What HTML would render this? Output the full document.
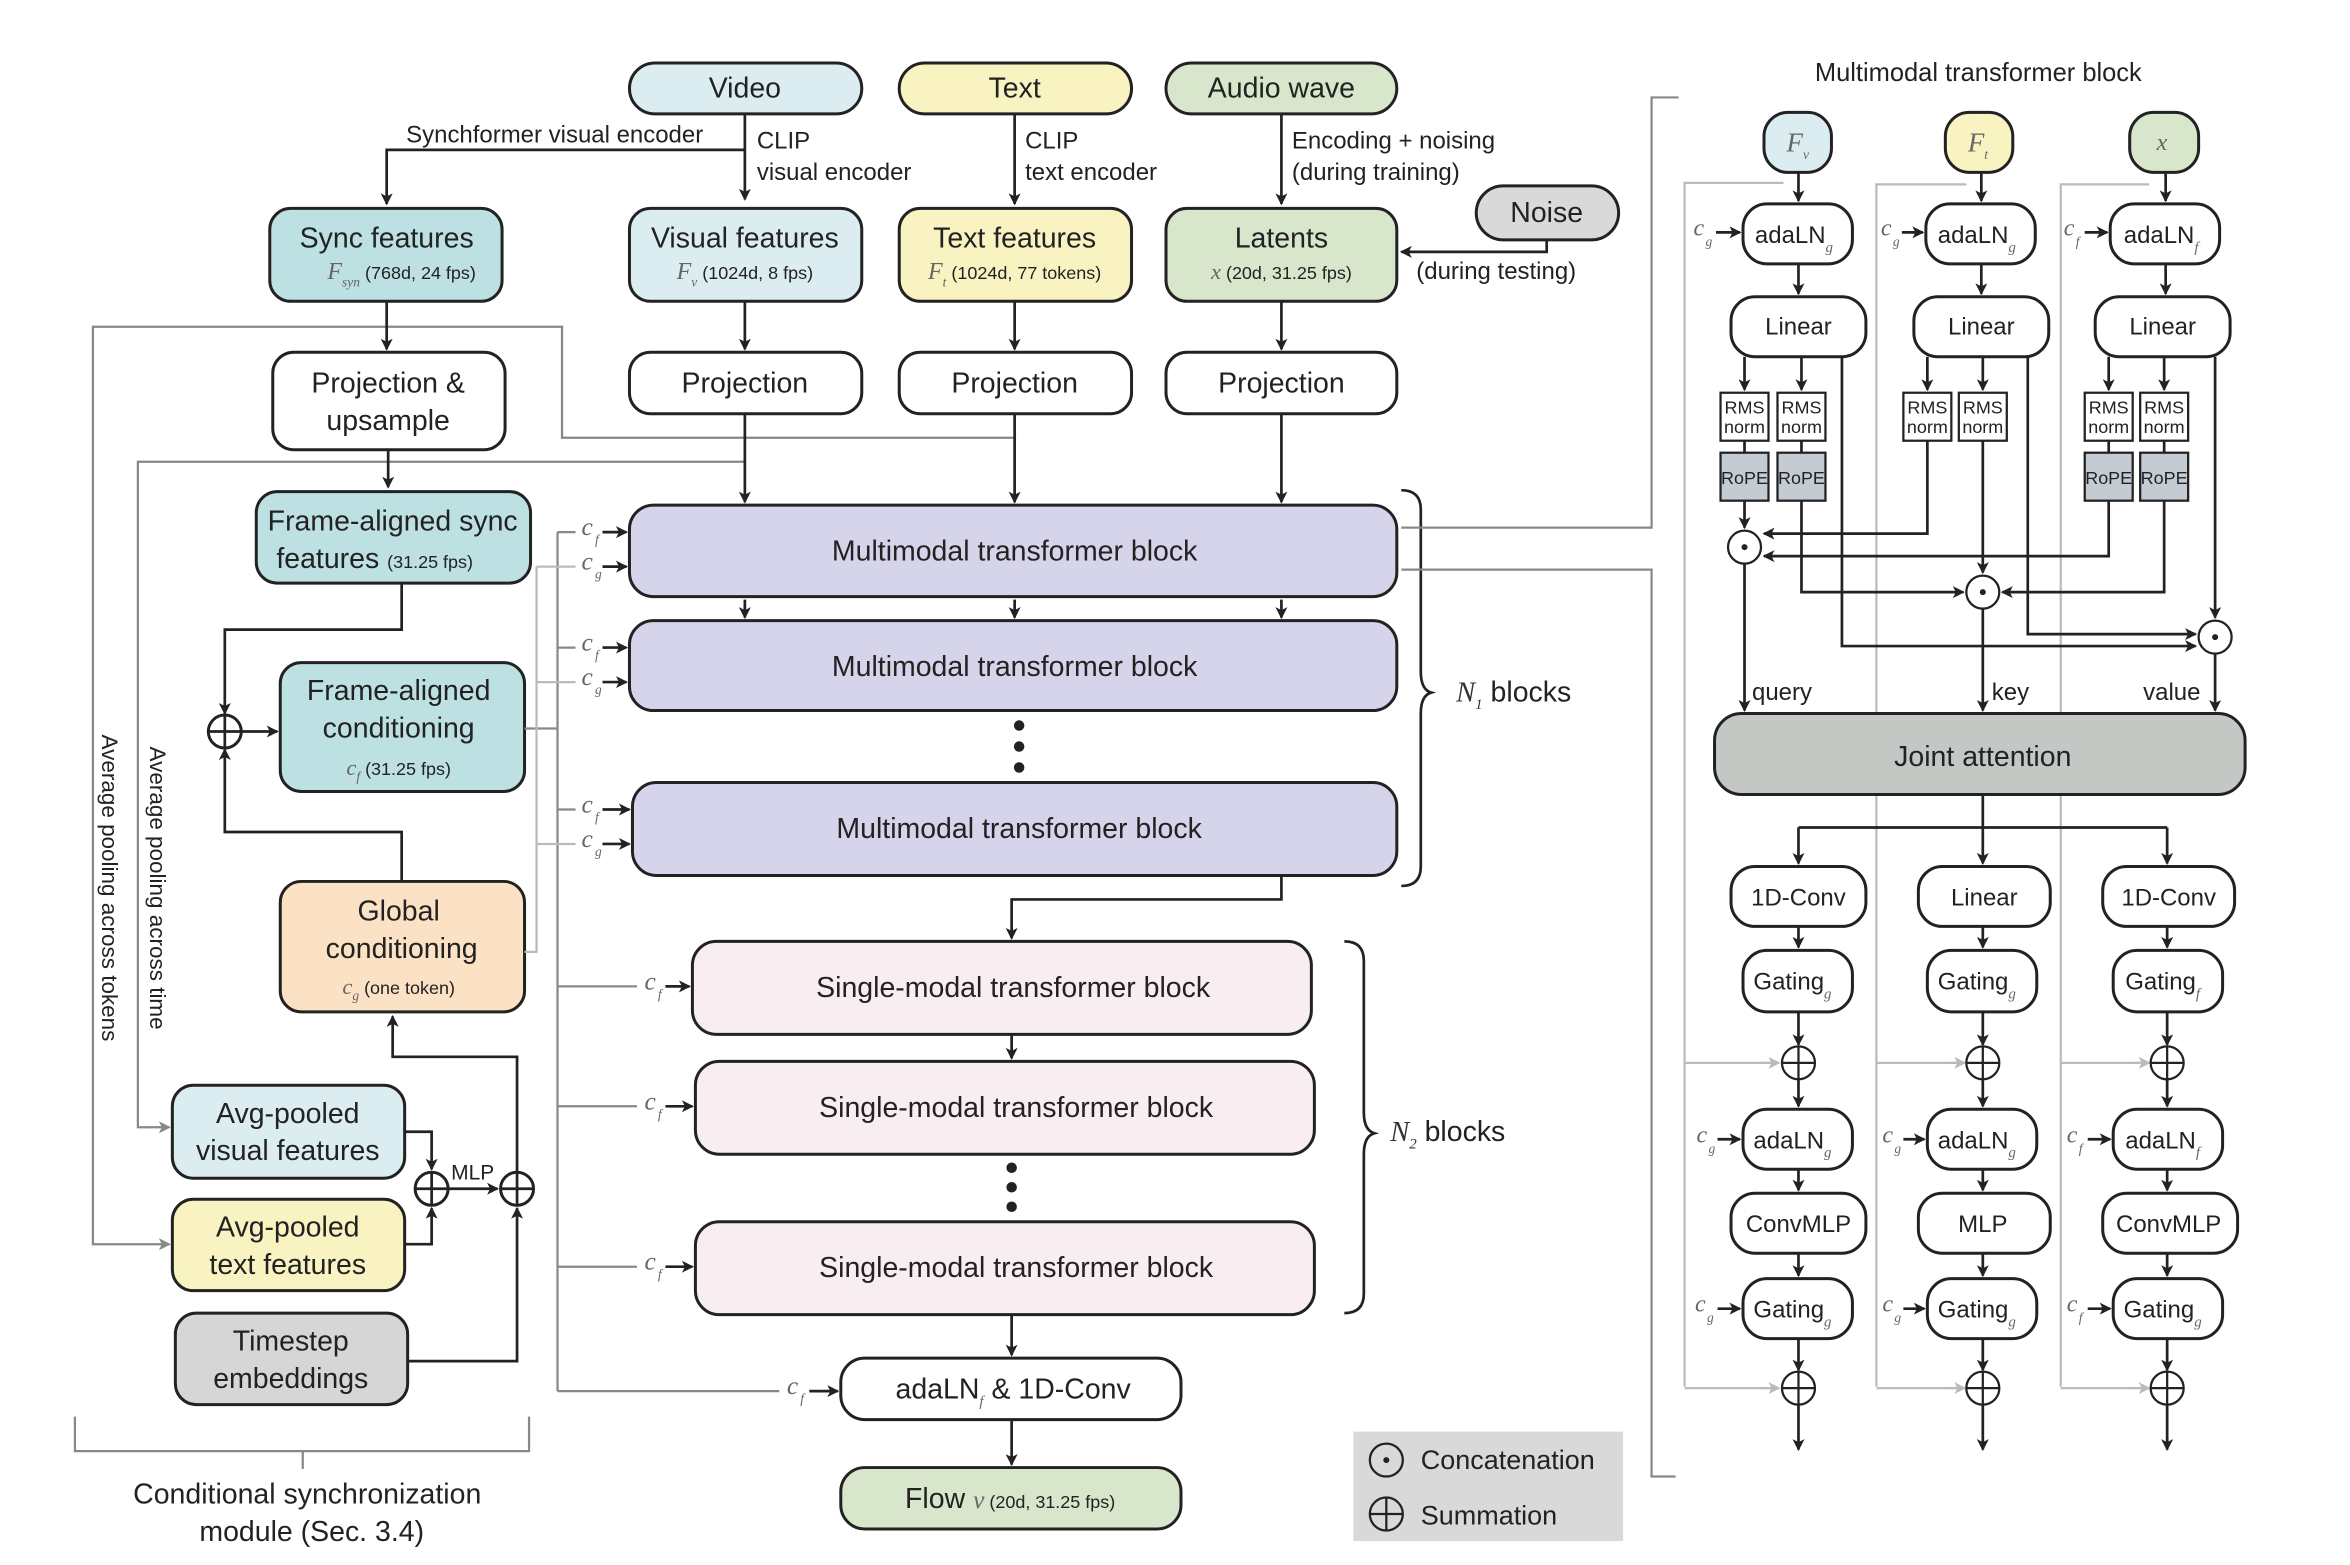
<!DOCTYPE html>
<html><head><meta charset="utf-8"><style>
html,body{margin:0;padding:0;background:#fff;}
svg{display:block;}
text{font-family:"Liberation Sans",sans-serif;fill:#222;}
.t{font-size:19px;text-anchor:middle;}
.s{font-size:12px;text-anchor:middle;}
.r{font-size:16px;text-anchor:middle;}
.l{font-size:16px;}
.i{font-family:"Liberation Serif",serif;font-style:italic;fill:#666;}
.b{stroke:#222;stroke-width:2;}
.k{stroke:#222;stroke-width:1.8;fill:none;}
.g{stroke:#888;stroke-width:1.5;fill:none;}
.lg{stroke:#bbb;stroke-width:1.5;fill:none;}
</style></head><body>
<svg width="2350" height="1565" viewBox="0 0 1568 1044" preserveAspectRatio="none" xmlns="http://www.w3.org/2000/svg">
<defs>
<marker id="a" markerWidth="8" markerHeight="8" refX="7" refY="4" orient="auto" markerUnits="userSpaceOnUse"><path d="M0,0 L8,4 L0,8 L2,4z" fill="#222"/></marker>
<marker id="ag" markerWidth="8" markerHeight="8" refX="7" refY="4" orient="auto" markerUnits="userSpaceOnUse"><path d="M0,0 L8,4 L0,8 L2,4z" fill="#888"/></marker>
<marker id="al" markerWidth="8" markerHeight="8" refX="7" refY="4" orient="auto" markerUnits="userSpaceOnUse"><path d="M0,0 L8,4 L0,8 L2,4z" fill="#bbb"/></marker>
</defs>

<path class="g" d="M258,218 H62 V830 H113" marker-end="url(#ag)"/>
<path class="g" d="M258,218 H375 V292 H678"/>
<path class="g" d="M497,308 H92 V752 H113" marker-end="url(#ag)"/>
<text class="l" transform="translate(68,490) rotate(90)" style="font-size:15px">Average pooling across tokens</text>
<text class="l" transform="translate(100,498) rotate(90)" style="font-size:15px">Average pooling across time</text>

<rect x="420" y="42" width="155" height="34" rx="17" fill="#dcedf2" class="b"/><text class="t" x="497" y="65">Video</text>
<rect x="600" y="42" width="155" height="34" rx="17" fill="#f8f3c0" class="b"/><text class="t" x="677" y="65">Text</text>
<rect x="778" y="42" width="154" height="34" rx="17" fill="#d8e6cc" class="b"/><text class="t" x="855" y="65">Audio wave</text>

<path class="k" d="M497,76 V133" marker-end="url(#a)"/>
<path class="k" d="M497,100 H258 V136" marker-end="url(#a)"/>
<path class="k" d="M677,76 V136" marker-end="url(#a)"/>
<path class="k" d="M855,76 V136" marker-end="url(#a)"/>
<text class="l" x="271" y="95">Synchformer visual encoder</text>
<text class="l" x="505" y="99">CLIP</text><text class="l" x="505" y="120">visual encoder</text>
<text class="l" x="684" y="99">CLIP</text><text class="l" x="684" y="120">text encoder</text>
<text class="l" x="862" y="99">Encoding + noising</text><text class="l" x="862" y="120">(during training)</text>

<rect x="180" y="139" width="155" height="62" rx="14" fill="#bde0e3" class="b"/>
<text class="t" x="258" y="165">Sync features</text>
<text class="s" x="268" y="186"><tspan class="i" style="font-size:16px">F</tspan><tspan class="i" style="font-size:9px" dy="5">syn</tspan><tspan dy="-5"> (768d, 24 fps)</tspan></text>
<rect x="420" y="139" width="155" height="62" rx="14" fill="#dcedf2" class="b"/>
<text class="t" x="497" y="165">Visual features</text>
<text class="s" x="497" y="186"><tspan class="i" style="font-size:16px">F</tspan><tspan class="i" style="font-size:9px" dy="5">v</tspan><tspan dy="-5"> (1024d, 8 fps)</tspan></text>
<rect x="600" y="139" width="155" height="62" rx="14" fill="#f8f3c0" class="b"/>
<text class="t" x="677" y="165">Text features</text>
<text class="s" x="677" y="186"><tspan class="i" style="font-size:16px">F</tspan><tspan class="i" style="font-size:9px" dy="5">t</tspan><tspan dy="-5"> (1024d, 77 tokens)</tspan></text>
<rect x="778" y="139" width="154" height="62" rx="14" fill="#d8e6cc" class="b"/>
<text class="t" x="855" y="165">Latents</text>
<text class="s" x="855" y="186"><tspan class="i" style="font-size:15px">x</tspan> (20d, 31.25 fps)</text>

<rect x="985" y="124" width="95" height="36" rx="18" fill="#d9d9d9" class="b"/><text class="t" x="1032" y="148">Noise</text>
<path class="k" d="M1032,160 V168 H935" marker-end="url(#a)"/>
<text class="l" x="945" y="186">(during testing)</text>

<path class="k" d="M258,201 V233" marker-end="url(#a)"/>
<path class="k" d="M497,201 V233" marker-end="url(#a)"/>
<path class="k" d="M677,201 V233" marker-end="url(#a)"/>
<path class="k" d="M855,201 V233" marker-end="url(#a)"/>

<rect x="182" y="235" width="155" height="65" rx="14" fill="#fff" class="b"/>
<text class="t" x="259" y="262">Projection &amp;</text><text class="t" x="259" y="287">upsample</text>
<rect x="420" y="235" width="155" height="41" rx="14" fill="#fff" class="b"/><text class="t" x="497" y="262">Projection</text>
<rect x="600" y="235" width="155" height="41" rx="14" fill="#fff" class="b"/><text class="t" x="677" y="262">Projection</text>
<rect x="778" y="235" width="154" height="41" rx="14" fill="#fff" class="b"/><text class="t" x="855" y="262">Projection</text>

<path class="k" d="M259,300 V325" marker-end="url(#a)"/>
<path class="k" d="M497,276 V335" marker-end="url(#a)"/>
<path class="k" d="M677,276 V335" marker-end="url(#a)"/>
<path class="k" d="M855,276 V335" marker-end="url(#a)"/>

<rect x="171" y="328" width="183" height="61" rx="14" fill="#bde0e3" class="b"/>
<text class="t" x="262" y="354">Frame-aligned sync</text>
<text class="t" x="250" y="379">features <tspan style="font-size:12px">(31.25 fps)</tspan></text>
<rect x="187" y="442" width="163" height="86" rx="14" fill="#bde0e3" class="b"/>
<text class="t" x="266" y="467">Frame-aligned</text>
<text class="t" x="266" y="492">conditioning</text>
<text class="s" x="266" y="517"><tspan class="i" style="font-size:15px">c</tspan><tspan class="i" style="font-size:9px" dy="4">f</tspan><tspan dy="-4"> (31.25 fps)</tspan></text>
<rect x="187" y="588" width="163" height="87" rx="14" fill="#fbe2c4" class="b"/>
<text class="t" x="266" y="614">Global</text>
<text class="t" x="268" y="639">conditioning</text>
<text class="s" x="266" y="663"><tspan class="i" style="font-size:15px">c</tspan><tspan class="i" style="font-size:9px" dy="4">g</tspan><tspan dy="-4"> (one token)</tspan></text>

<path class="k" d="M268,389 V420 H150 V476" marker-end="url(#a)"/>
<path class="k" d="M268,588 V555 H150 V500" marker-end="url(#a)"/>
<circle cx="150" cy="488" r="11" fill="#fff" class="b"/><path class="k" d="M139,488 H161 M150,477 V499"/>
<path class="k" d="M161,488 H185" marker-end="url(#a)"/>

<rect x="115" y="724" width="155" height="62" rx="14" fill="#dcedf2" class="b"/>
<text class="t" x="192" y="749">Avg-pooled</text><text class="t" x="192" y="774">visual features</text>
<rect x="115" y="800" width="155" height="61" rx="14" fill="#f8f3c0" class="b"/>
<text class="t" x="192" y="825">Avg-pooled</text><text class="t" x="192" y="850">text features</text>
<rect x="117" y="876" width="155" height="61" rx="14" fill="#d6d6d6" class="b"/>
<text class="t" x="194" y="901">Timestep</text><text class="t" x="194" y="926">embeddings</text>

<path class="k" d="M270,755 H288 V780" marker-end="url(#a)"/>
<path class="k" d="M270,830 H288 V806" marker-end="url(#a)"/>
<circle cx="288" cy="793" r="11" fill="#fff" class="b"/><path class="k" d="M277,793 H299 M288,782 V804"/>
<path class="k" d="M299,793 H332" marker-end="url(#a)"/>
<text class="l" x="301" y="787" style="font-size:14px">MLP</text>
<circle cx="345" cy="793" r="11" fill="#fff" class="b"/><path class="k" d="M334,793 H356 M345,782 V804"/>
<path class="k" d="M272,908 H345 V806" marker-end="url(#a)"/>
<path class="k" d="M345,782 V705 H262 V678" marker-end="url(#a)"/>

<path class="g" d="M50,945 V968 H353 V945 M202,968 V980"/>
<text class="t" x="205" y="1003">Conditional synchronization</text>
<text class="t" x="208" y="1028">module (Sec. 3.4)</text>

<path class="g" d="M350,486 H372 M372,355 V928"/>
<path class="lg" d="M350,635 H358 V378"/>
<g class="g">
<path d="M372,355 H384"/><path d="M372,432 H384"/><path d="M372,540 H384"/>
<path d="M372,658 H425"/><path d="M372,738 H425"/><path d="M372,845 H425"/><path d="M372,928 H520"/>
</g>
<g class="lg"><path d="M358,378 H384"/><path d="M358,455 H384"/><path d="M358,563 H384"/></g>
<g font-size="17">
<text class="i" x="388" y="357">c</text><text class="i" x="397" y="363" font-size="9">f</text><path class="k" d="M402,355 H418" marker-end="url(#a)"/>
<text class="i" x="388" y="380">c</text><text class="i" x="397" y="386" font-size="9">g</text><path class="k" d="M402,378 H418" marker-end="url(#a)"/>
<text class="i" x="388" y="434">c</text><text class="i" x="397" y="440" font-size="9">f</text><path class="k" d="M402,432 H418" marker-end="url(#a)"/>
<text class="i" x="388" y="457">c</text><text class="i" x="397" y="463" font-size="9">g</text><path class="k" d="M402,455 H418" marker-end="url(#a)"/>
<text class="i" x="388" y="542">c</text><text class="i" x="397" y="548" font-size="9">f</text><path class="k" d="M402,540 H420" marker-end="url(#a)"/>
<text class="i" x="388" y="565">c</text><text class="i" x="397" y="571" font-size="9">g</text><path class="k" d="M402,563 H420" marker-end="url(#a)"/>
<text class="i" x="430" y="660">c</text><text class="i" x="439" y="666" font-size="9">f</text><path class="k" d="M444,658 H460" marker-end="url(#a)"/>
<text class="i" x="430" y="740">c</text><text class="i" x="439" y="746" font-size="9">f</text><path class="k" d="M444,738 H462" marker-end="url(#a)"/>
<text class="i" x="430" y="847">c</text><text class="i" x="439" y="853" font-size="9">f</text><path class="k" d="M444,845 H462" marker-end="url(#a)"/>
<text class="i" x="525" y="930">c</text><text class="i" x="534" y="936" font-size="9">f</text><path class="k" d="M540,928 H559" marker-end="url(#a)"/>
</g>

<rect x="420" y="337" width="512" height="61" rx="16" fill="#d5d4ea" class="b"/><text class="t" x="677" y="374">Multimodal transformer block</text>
<path class="k" d="M497,400 V412" marker-end="url(#a)"/><path class="k" d="M677,400 V412" marker-end="url(#a)"/><path class="k" d="M855,400 V412" marker-end="url(#a)"/>
<rect x="420" y="414" width="512" height="60" rx="16" fill="#d5d4ea" class="b"/><text class="t" x="677" y="451">Multimodal transformer block</text>
<circle cx="680" cy="484" r="3.5" fill="#222"/><circle cx="680" cy="498" r="3.5" fill="#222"/><circle cx="680" cy="512" r="3.5" fill="#222"/>
<rect x="422" y="522" width="510" height="62" rx="16" fill="#d5d4ea" class="b"/><text class="t" x="680" y="559">Multimodal transformer block</text>
<path class="k" d="M855,584 V600 H675 V626" marker-end="url(#a)"/>

<path class="k" d="M935,327 Q948,327 948,340 V448 Q948,460 955,462 Q948,464 948,476 V578 Q948,591 935,591" />
<text class="t" x="1010" y="468" style="font-size:19px"><tspan class="i" style="fill:#333">N</tspan><tspan class="i" style="font-size:10px;fill:#333" dy="5">1</tspan><tspan dy="-5"> blocks</tspan></text>

<rect x="462" y="628" width="413" height="62" rx="16" fill="#f8edf1" class="b"/><text class="t" x="676" y="665">Single-modal transformer block</text>
<path class="k" d="M675,690 V706" marker-end="url(#a)"/>
<rect x="464" y="708" width="413" height="62" rx="16" fill="#f8edf1" class="b"/><text class="t" x="678" y="745">Single-modal transformer block</text>
<circle cx="675" cy="779" r="3.5" fill="#222"/><circle cx="675" cy="792" r="3.5" fill="#222"/><circle cx="675" cy="805" r="3.5" fill="#222"/>
<rect x="464" y="815" width="413" height="62" rx="16" fill="#f8edf1" class="b"/><text class="t" x="678" y="852">Single-modal transformer block</text>
<path class="k" d="M897,628 Q910,628 910,641 V742 Q910,754 917,756 Q910,758 910,770 V863 Q910,876 897,876"/>
<text class="t" x="966" y="761" style="font-size:19px"><tspan class="i" style="fill:#333">N</tspan><tspan class="i" style="font-size:10px;fill:#333" dy="5">2</tspan><tspan dy="-5"> blocks</tspan></text>

<path class="k" d="M675,877 V904" marker-end="url(#a)"/>
<rect x="561" y="906" width="227" height="41" rx="16" fill="#fff" class="b"/>
<text class="t" x="676" y="933">adaLN<tspan class="i" style="font-size:10px" dy="5">f</tspan><tspan dy="-5"> &amp; 1D-Conv</tspan></text>
<path class="k" d="M675,947 V977" marker-end="url(#a)"/>
<rect x="561" y="979" width="227" height="41" rx="16" fill="#d8e6cc" class="b"/>
<text class="t" x="674" y="1006">Flow <tspan class="i" style="font-size:17px">v</tspan><tspan style="font-size:12px"> (20d, 31.25 fps)</tspan></text>

<rect x="903" y="955" width="180" height="73" fill="#d9d9d9"/>
<circle cx="925" cy="974" r="11" fill="none" class="b" style="stroke-width:1.5"/><circle cx="925" cy="974" r="2" fill="#222"/>
<text class="l" x="948" y="980" style="font-size:18px">Concatenation</text>
<circle cx="925" cy="1010" r="11" fill="none" class="b" style="stroke-width:1.5"/><path class="k" d="M914,1010 H936 M925,999 V1021" style="stroke-width:1.5"/>
<text class="l" x="948" y="1017" style="font-size:18px">Summation</text>

<path class="g" d="M935,352 H1102 V65 H1120"/>
<path class="g" d="M935,380 H1102 V985 H1118"/>
<text class="t" x="1320" y="54" style="font-size:17px">Multimodal transformer block</text>

<path class="lg" d="M1190,122 H1124 V925 M1124,709 H1186 M1124,926 H1186"/>
<path class="lg" d="M1312,123 H1252 V925 M1252,709 H1310 M1252,926 H1310"/>
<path class="lg" d="M1434,123 H1375 V925 M1375,709 H1433 M1375,926 H1433"/>
<g class="lg"><path d="M1176,709 H1187" marker-end="url(#al)"/><path d="M1300,709 H1311" marker-end="url(#al)"/><path d="M1423,709 H1434" marker-end="url(#al)"/>
<path d="M1176,926 H1187" marker-end="url(#al)"/><path d="M1300,926 H1311" marker-end="url(#al)"/><path d="M1423,926 H1434" marker-end="url(#al)"/></g>

<rect x="1177" y="75" width="45" height="40" rx="16" fill="#dcedf2" class="b"/><text class="i" x="1192" y="101" font-size="18">F</text><text class="i" x="1203" y="106" font-size="9">v</text>
<rect x="1298" y="75" width="45" height="40" rx="16" fill="#f8f3c0" class="b"/><text class="i" x="1313" y="101" font-size="18">F</text><text class="i" x="1324" y="106" font-size="9">t</text>
<rect x="1421" y="75" width="46" height="40" rx="16" fill="#d8e6cc" class="b"/><text class="i" x="1439" y="100" font-size="16">x</text>

<g class="k">
<path d="M1200,115 V134" marker-end="url(#a)"/><path d="M1322,115 V134" marker-end="url(#a)"/><path d="M1445,115 V134" marker-end="url(#a)"/>
<path d="M1200,176 V196" marker-end="url(#a)"/><path d="M1322,176 V196" marker-end="url(#a)"/><path d="M1445,176 V196" marker-end="url(#a)"/>
<path d="M1164,238 V260" marker-end="url(#a)"/><path d="M1202,238 V260" marker-end="url(#a)"/>
<path d="M1286,238 V260" marker-end="url(#a)"/><path d="M1323,238 V260" marker-end="url(#a)"/>
<path d="M1407,238 V260" marker-end="url(#a)"/><path d="M1444,238 V260" marker-end="url(#a)"/>
</g>

<rect x="1163" y="136" width="73" height="40" rx="16" fill="#fff" class="b"/><text class="r" x="1197" y="162">adaLN<tspan class="i" font-size="10" dy="6">g</tspan></text>
<rect x="1285" y="136" width="73" height="40" rx="16" fill="#fff" class="b"/><text class="r" x="1319" y="162">adaLN<tspan class="i" font-size="10" dy="6">g</tspan></text>
<rect x="1408" y="136" width="73" height="40" rx="16" fill="#fff" class="b"/><text class="r" x="1442" y="162">adaLN<tspan class="i" font-size="10" dy="6">f</tspan></text>
<g font-size="16">
<text class="i" x="1130" y="157">c</text><text class="i" x="1138" y="164" font-size="9">g</text><path class="k" d="M1145,155 H1161" marker-end="url(#a)"/>
<text class="i" x="1255" y="157">c</text><text class="i" x="1263" y="164" font-size="9">g</text><path class="k" d="M1269,155 H1283" marker-end="url(#a)"/>
<text class="i" x="1377" y="157">c</text><text class="i" x="1385" y="164" font-size="9">f</text><path class="k" d="M1391,155 H1406" marker-end="url(#a)"/>
</g>

<rect x="1155" y="198" width="90" height="40" rx="16" fill="#fff" class="b"/><text class="r" x="1200" y="223">Linear</text>
<rect x="1277" y="198" width="90" height="40" rx="16" fill="#fff" class="b"/><text class="r" x="1322" y="223">Linear</text>
<rect x="1398" y="198" width="90" height="40" rx="16" fill="#fff" class="b"/><text class="r" x="1443" y="223">Linear</text>

<g font-size="12" text-anchor="middle">
<rect x="1148" y="262" width="32" height="32" fill="#fff" class="b" style="stroke-width:1.5"/><text x="1164" y="276">RMS</text><text x="1164" y="289">norm</text>
<rect x="1186" y="262" width="32" height="32" fill="#fff" class="b" style="stroke-width:1.5"/><text x="1202" y="276">RMS</text><text x="1202" y="289">norm</text>
<rect x="1270" y="262" width="32" height="32" fill="#fff" class="b" style="stroke-width:1.5"/><text x="1286" y="276">RMS</text><text x="1286" y="289">norm</text>
<rect x="1307" y="262" width="32" height="32" fill="#fff" class="b" style="stroke-width:1.5"/><text x="1323" y="276">RMS</text><text x="1323" y="289">norm</text>
<rect x="1391" y="262" width="32" height="32" fill="#fff" class="b" style="stroke-width:1.5"/><text x="1407" y="276">RMS</text><text x="1407" y="289">norm</text>
<rect x="1428" y="262" width="32" height="32" fill="#fff" class="b" style="stroke-width:1.5"/><text x="1444" y="276">RMS</text><text x="1444" y="289">norm</text>
<rect x="1148" y="302" width="32" height="32" fill="#c5cbd3" class="b" style="stroke-width:1.5"/><text x="1164" y="323">RoPE</text>
<rect x="1186" y="302" width="32" height="32" fill="#c5cbd3" class="b" style="stroke-width:1.5"/><text x="1202" y="323">RoPE</text>
<rect x="1391" y="302" width="32" height="32" fill="#c5cbd3" class="b" style="stroke-width:1.5"/><text x="1407" y="323">RoPE</text>
<rect x="1428" y="302" width="32" height="32" fill="#c5cbd3" class="b" style="stroke-width:1.5"/><text x="1444" y="323">RoPE</text>
</g>
<g class="k">
<path d="M1164,294 V302 M1202,294 V302 M1407,294 V302 M1444,294 V302"/>
<path d="M1164,334 V352" marker-end="url(#a)"/>
<path d="M1286,294 V356 H1177" marker-end="url(#a)"/>
<path d="M1407,334 V371 H1177" marker-end="url(#a)"/>
<path d="M1202,334 V395 H1310" marker-end="url(#a)"/>
<path d="M1323,294 V382" marker-end="url(#a)"/>
<path d="M1444,334 V395 H1336" marker-end="url(#a)"/>
<path d="M1229,238 V431 H1465" marker-end="url(#a)"/>
<path d="M1353,238 V423 H1465" marker-end="url(#a)"/>
<path d="M1478,238 V412" marker-end="url(#a)"/>
<path d="M1164,376 V474" marker-end="url(#a)"/>
<path d="M1323,406 V474" marker-end="url(#a)"/>
<path d="M1478,436 V474" marker-end="url(#a)"/>
</g>
<circle cx="1164" cy="365" r="11" fill="#fff" class="b" style="stroke-width:1.5"/><circle cx="1164" cy="365" r="2" fill="#222"/>
<circle cx="1323" cy="395" r="11" fill="#fff" class="b" style="stroke-width:1.5"/><circle cx="1323" cy="395" r="2" fill="#222"/>
<circle cx="1478" cy="425" r="11" fill="#fff" class="b" style="stroke-width:1.5"/><circle cx="1478" cy="425" r="2" fill="#222"/>
<text class="l" x="1169" y="467">query</text>
<text class="l" x="1329" y="467">key</text>
<text class="l" x="1430" y="467">value</text>

<rect x="1144" y="476" width="354" height="54" rx="18" fill="#c4c8c5" class="b"/>
<text class="t" x="1323" y="511">Joint attention</text>

<path class="k" d="M1323,530 V552 M1200,552 H1446"/>
<g class="k">
<path d="M1200,552 V576" marker-end="url(#a)"/><path d="M1323,552 V576" marker-end="url(#a)"/><path d="M1446,552 V576" marker-end="url(#a)"/>
<path d="M1200,618 V632" marker-end="url(#a)"/><path d="M1323,618 V632" marker-end="url(#a)"/><path d="M1446,618 V632" marker-end="url(#a)"/>
<path d="M1200,675 V697" marker-end="url(#a)"/><path d="M1323,675 V697" marker-end="url(#a)"/><path d="M1446,675 V697" marker-end="url(#a)"/>
<path d="M1200,720 V738" marker-end="url(#a)"/><path d="M1323,720 V738" marker-end="url(#a)"/><path d="M1446,720 V738" marker-end="url(#a)"/>
<path d="M1200,780 V794" marker-end="url(#a)"/><path d="M1323,780 V794" marker-end="url(#a)"/><path d="M1446,780 V794" marker-end="url(#a)"/>
<path d="M1200,836 V851" marker-end="url(#a)"/><path d="M1323,836 V851" marker-end="url(#a)"/><path d="M1446,836 V851" marker-end="url(#a)"/>
<path d="M1200,893 V914" marker-end="url(#a)"/><path d="M1323,893 V914" marker-end="url(#a)"/><path d="M1446,893 V914" marker-end="url(#a)"/>
<path d="M1200,937 V967" marker-end="url(#a)"/><path d="M1323,937 V967" marker-end="url(#a)"/><path d="M1446,937 V967" marker-end="url(#a)"/>
</g>

<rect x="1155" y="578" width="90" height="40" rx="16" fill="#fff" class="b"/><text class="r" x="1200" y="604">1D-Conv</text>
<rect x="1280" y="578" width="88" height="40" rx="16" fill="#fff" class="b"/><text class="r" x="1324" y="604">Linear</text>
<rect x="1403" y="578" width="88" height="40" rx="16" fill="#fff" class="b"/><text class="r" x="1447" y="604">1D-Conv</text>

<rect x="1163" y="634" width="73" height="41" rx="16" fill="#fff" class="b"/><text class="r" x="1196" y="660">Gating<tspan class="i" font-size="10" dy="6">g</tspan></text>
<rect x="1286" y="634" width="73" height="41" rx="16" fill="#fff" class="b"/><text class="r" x="1319" y="660">Gating<tspan class="i" font-size="10" dy="6">g</tspan></text>
<rect x="1410" y="634" width="73" height="41" rx="16" fill="#fff" class="b"/><text class="r" x="1443" y="660">Gating<tspan class="i" font-size="10" dy="6">f</tspan></text>

<circle cx="1200" cy="709" r="11" fill="#fff" class="b" style="stroke-width:1.5"/><path class="k" d="M1189,709 H1211 M1200,698 V720" style="stroke-width:1.5"/>
<circle cx="1323" cy="709" r="11" fill="#fff" class="b" style="stroke-width:1.5"/><path class="k" d="M1312,709 H1334 M1323,698 V720" style="stroke-width:1.5"/>
<circle cx="1446" cy="709" r="11" fill="#fff" class="b" style="stroke-width:1.5"/><path class="k" d="M1435,709 H1457 M1446,698 V720" style="stroke-width:1.5"/>
<circle cx="1200" cy="926" r="11" fill="#fff" class="b" style="stroke-width:1.5"/><path class="k" d="M1189,926 H1211 M1200,915 V937" style="stroke-width:1.5"/>
<circle cx="1323" cy="926" r="11" fill="#fff" class="b" style="stroke-width:1.5"/><path class="k" d="M1312,926 H1334 M1323,915 V937" style="stroke-width:1.5"/>
<circle cx="1446" cy="926" r="11" fill="#fff" class="b" style="stroke-width:1.5"/><path class="k" d="M1435,926 H1457 M1446,915 V937" style="stroke-width:1.5"/>

<rect x="1163" y="740" width="73" height="40" rx="16" fill="#fff" class="b"/><text class="r" x="1196" y="766">adaLN<tspan class="i" font-size="10" dy="6">g</tspan></text>
<rect x="1286" y="740" width="73" height="40" rx="16" fill="#fff" class="b"/><text class="r" x="1319" y="766">adaLN<tspan class="i" font-size="10" dy="6">g</tspan></text>
<rect x="1410" y="740" width="73" height="40" rx="16" fill="#fff" class="b"/><text class="r" x="1443" y="766">adaLN<tspan class="i" font-size="10" dy="6">f</tspan></text>

<rect x="1155" y="796" width="90" height="40" rx="16" fill="#fff" class="b"/><text class="r" x="1200" y="822">ConvMLP</text>
<rect x="1280" y="796" width="88" height="40" rx="16" fill="#fff" class="b"/><text class="r" x="1323" y="822">MLP</text>
<rect x="1403" y="796" width="90" height="40" rx="16" fill="#fff" class="b"/><text class="r" x="1447" y="822">ConvMLP</text>

<rect x="1163" y="853" width="73" height="40" rx="16" fill="#fff" class="b"/><text class="r" x="1196" y="879">Gating<tspan class="i" font-size="10" dy="6">g</tspan></text>
<rect x="1286" y="853" width="73" height="40" rx="16" fill="#fff" class="b"/><text class="r" x="1319" y="879">Gating<tspan class="i" font-size="10" dy="6">g</tspan></text>
<rect x="1410" y="853" width="73" height="40" rx="16" fill="#fff" class="b"/><text class="r" x="1443" y="879">Gating<tspan class="i" font-size="10" dy="6">g</tspan></text>

<g font-size="16">
<text class="i" x="1132" y="762">c</text><text class="i" x="1140" y="769" font-size="9">g</text><path class="k" d="M1146,760 H1161" marker-end="url(#a)"/>
<text class="i" x="1256" y="762">c</text><text class="i" x="1264" y="769" font-size="9">g</text><path class="k" d="M1270,760 H1284" marker-end="url(#a)"/>
<text class="i" x="1379" y="762">c</text><text class="i" x="1387" y="769" font-size="9">f</text><path class="k" d="M1393,760 H1408" marker-end="url(#a)"/>
<text class="i" x="1131" y="875">c</text><text class="i" x="1139" y="882" font-size="9">g</text><path class="k" d="M1146,873 H1161" marker-end="url(#a)"/>
<text class="i" x="1256" y="875">c</text><text class="i" x="1264" y="882" font-size="9">g</text><path class="k" d="M1270,873 H1284" marker-end="url(#a)"/>
<text class="i" x="1379" y="875">c</text><text class="i" x="1387" y="882" font-size="9">f</text><path class="k" d="M1393,873 H1408" marker-end="url(#a)"/>
</g>
</svg>
</body></html>
